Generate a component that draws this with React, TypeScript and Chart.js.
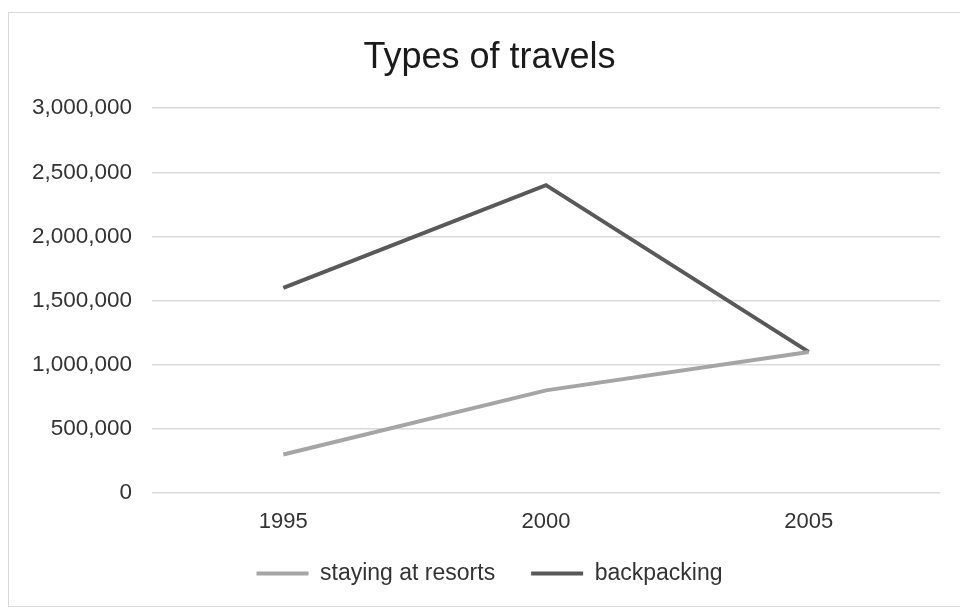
import React, { useEffect, useRef } from "react";
import { Chart, registerables } from "chart.js";

Chart.register(...registerables);

const categories = ["1995", "2000", "2005"];
const resorts = [300000, 800000, 1100000];
const backpacking = [1600000, 2400000, 1100000];
const yTicks = [0, 500000, 1000000, 1500000, 2000000, 2500000, 3000000];

const FONT = "'Liberation Sans', Arial, sans-serif";

const unclipLabels = {
  id: "unclipLabels",
  afterLayout(c: any) {
    c.scales.y.left = 0;
    c.scales.x.bottom = c.height;
  },
};

export default function App() {
  const ref = useRef<HTMLCanvasElement | null>(null);
  useEffect(() => {
    if (!ref.current) return;
    const chart = new Chart(ref.current, {
      type: "line",
      data: {
        labels: categories,
        datasets: [
          {
            label: "staying at resorts",
            data: resorts,
            borderColor: "#a5a5a5",
            backgroundColor: "#a5a5a5",
            borderWidth: 4,
            pointRadius: 0,
            tension: 0,
          },
          {
            label: "backpacking",
            data: backpacking,
            borderColor: "#595959",
            backgroundColor: "#595959",
            borderWidth: 4,
            pointRadius: 0,
            tension: 0,
          },
        ],
      },
      plugins: [unclipLabels],
      options: {
        animation: false,
        responsive: false,
        maintainAspectRatio: false,
        layout: { padding: { left: 30, right: 20, top: 0, bottom: 11 } },
        plugins: {
          title: {
            display: true,
            text: "Types of travels",
            color: "#1a1a1a",
            font: { family: FONT, size: 36, weight: "normal" },
            padding: { top: 23, bottom: 29 },
          },
          legend: {
            position: "bottom",
            labels: {
              color: "#333333",
              font: { family: FONT, size: 23 },
              boxWidth: 52,
              boxHeight: 4,
              padding: 36,
              generateLabels: (c: any) =>
                c.data.datasets.map((ds: any, i: number) => ({
                  text: ds.label,
                  fillStyle: ds.borderColor,
                  strokeStyle: ds.borderColor,
                  lineWidth: 0,
                  fontColor: "#333333",
                  hidden: false,
                  datasetIndex: i,
                })),
            },
          },
          tooltip: { enabled: false },
        },
        scales: {
          x: {
            offset: true,
            afterFit: (s: any) => {
              s.height = 33;
            },
            grid: { display: false, drawTicks: false },
            border: { display: false },
            ticks: {
              color: "#333333",
              font: { family: FONT, size: 22 },
              padding: 16,
            },
          },
          y: {
            min: 0,
            max: 3000000,
            afterFit: (s: any) => {
              s.width = 113;
            },
            afterBuildTicks: (s: any) => {
              s.ticks = yTicks.map((v) => ({ value: v }));
            },
            grid: { color: "#d9d9d9", lineWidth: 1.5, drawTicks: false },
            border: { display: false },
            ticks: {
              color: "#333333",
              font: { family: FONT, size: 22.5 },
              padding: 20,
              callback: (v: any) => Number(v).toLocaleString("en-US"),
            },
          },
        },
      },
    });
    return () => chart.destroy();
  }, []);
  return (
    <div
      style={{
        position: "absolute",
        left: 8,
        top: 12,
        width: 951,
        height: 593,
        borderLeft: "1px solid #d9d9d9",
        borderTop: "1px solid #d9d9d9",
        borderBottom: "1px solid #d9d9d9",
        background: "#fff",
      }}
    >
      <canvas ref={ref} width={951} height={593} style={{ display: "block" }} />
    </div>
  );
}
